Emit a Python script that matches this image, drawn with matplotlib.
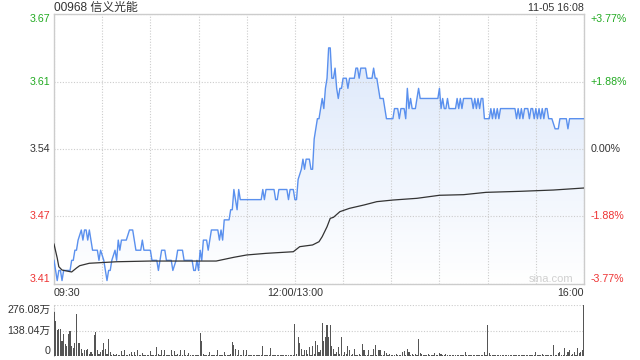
import numpy as np
import matplotlib
matplotlib.use('Agg')
import matplotlib.pyplot as plt
from matplotlib.colors import LinearSegmentedColormap
from matplotlib.patches import Polygon

plt.rcParams['font.family'] = ['Liberation Sans', 'Noto Sans CJK SC', 'DejaVu Sans']

title = "00968 信义光能"
stamp = "11-05 16:08"
prev_close = 3.54

# price axis limits and labels (prev close +/- 3.77%)
y_ticks = [3.6735, 3.6066, 3.54, 3.4734, 3.4066]
y_labels = ["3.67", "3.61", "3.54", "3.47", "3.41"]
pct_labels = ["+3.77%", "+1.88%", "0.00%", "-1.88%", "-3.77%"]
label_colors = ["#22aa22", "#22aa22", "#333333", "#ee3333", "#ee3333"]

time_ticks = [0, 150, 330]
time_labels = ["09:30", "12:00/13:00", "16:00"]

# price line, minute index from 09:30 (lunch removed)
t_price = [0, 2, 3, 4, 5, 6, 10, 11, 12, 13, 14, 15, 17, 18, 19, 20, 21, 22, 24, 27,
           28, 29, 31, 32, 33, 34, 35, 36, 38, 39, 40, 41, 42, 45, 47, 49, 51, 54, 55, 56,
           60, 61, 64, 65, 67, 69, 70, 73, 74, 76, 77, 80, 81, 86, 87, 88, 89, 90, 91, 92,
           93, 95, 96, 97, 98, 102, 103, 104, 105, 106, 109, 110, 111, 112, 113, 114, 115, 116, 129, 130,
           131, 132, 137, 138, 139, 140, 145, 146, 147, 149, 150, 151, 152, 154, 155, 156, 157, 159, 160, 161,
           162, 164, 165, 167, 168, 169, 170, 171, 172, 173, 174, 175, 176, 177, 178, 179, 180, 182, 183, 184,
           187, 188, 189, 190, 191, 194, 195, 198, 199, 200, 201, 203, 205, 207, 211, 212, 214, 215, 216, 218,
           219, 220, 221, 222, 223, 225, 226, 227, 228, 239, 240, 241, 242, 243, 244, 245, 246, 250, 251, 252,
           253, 254, 255, 260, 261, 262, 263, 264, 265, 266, 267, 268, 271, 272, 273, 274, 275, 276, 277, 278,
           287, 288, 289, 290, 291, 292, 293, 295, 296, 297, 298, 299, 300, 301, 302, 303, 304, 305, 306, 307,
           308, 310, 312, 314, 315, 319, 320, 321, 330]
price = [3.43, 3.41, 3.42, 3.42, 3.41, 3.42, 3.42, 3.43, 3.43, 3.44, 3.44, 3.45, 3.46, 3.45, 3.46, 3.46, 3.45, 3.46, 3.44, 3.44,
         3.43, 3.44, 3.43, 3.42, 3.41, 3.42, 3.42, 3.43, 3.44, 3.43, 3.45, 3.44, 3.45, 3.45, 3.46, 3.46, 3.44, 3.44, 3.45, 3.44,
         3.44, 3.43, 3.43, 3.42, 3.44, 3.44, 3.43, 3.43, 3.42, 3.43, 3.44, 3.44, 3.43, 3.43, 3.42, 3.42, 3.43, 3.42, 3.44, 3.43,
         3.45, 3.45, 3.44, 3.45, 3.46, 3.46, 3.45, 3.46, 3.45, 3.47, 3.47, 3.48, 3.48, 3.50, 3.49, 3.48, 3.50, 3.49, 3.49, 3.50,
         3.49, 3.50, 3.50, 3.49, 3.49, 3.50, 3.50, 3.49, 3.50, 3.50, 3.49, 3.49, 3.51, 3.52, 3.53, 3.52, 3.53, 3.53, 3.52, 3.52,
         3.55, 3.57, 3.57, 3.59, 3.58, 3.60, 3.61, 3.64, 3.64, 3.61, 3.61, 3.62, 3.60, 3.59, 3.60, 3.60, 3.61, 3.61, 3.60, 3.61,
         3.61, 3.62, 3.62, 3.61, 3.62, 3.62, 3.61, 3.61, 3.62, 3.61, 3.61, 3.59, 3.59, 3.57, 3.57, 3.58, 3.58, 3.57, 3.58, 3.58,
         3.57, 3.60, 3.58, 3.59, 3.58, 3.58, 3.59, 3.60, 3.59, 3.59, 3.60, 3.58, 3.59, 3.58, 3.58, 3.59, 3.58, 3.58, 3.59, 3.58,
         3.59, 3.58, 3.59, 3.59, 3.58, 3.59, 3.58, 3.59, 3.58, 3.59, 3.59, 3.57, 3.57, 3.58, 3.57, 3.58, 3.57, 3.58, 3.57, 3.58,
         3.58, 3.57, 3.58, 3.57, 3.58, 3.57, 3.58, 3.58, 3.57, 3.58, 3.58, 3.57, 3.58, 3.57, 3.58, 3.57, 3.58, 3.57, 3.58, 3.58,
         3.57, 3.57, 3.56, 3.56, 3.57, 3.57, 3.56, 3.57, 3.57]

# average price line
t_avg = [0, 2, 3, 5, 10, 11, 14, 16, 22, 29, 39, 60, 101, 112, 120, 132, 149, 153, 161, 165,
         167, 170, 172, 174, 178, 184, 193, 201, 211, 226, 240, 255, 269, 290, 311, 330]
avg = [3.4461, 3.4323, 3.4237, 3.4204, 3.4188, 3.4185, 3.4224, 3.4247, 3.4271, 3.4277,
       3.4286, 3.4293, 3.4293, 3.4330, 3.4353, 3.4369, 3.4385, 3.4435, 3.4452, 3.4484,
       3.4534, 3.4632, 3.4715, 3.4725, 3.4781, 3.4814, 3.4847, 3.4880, 3.4896, 3.4913,
       3.4943, 3.4949, 3.4972, 3.4982, 3.4995, 3.5015]

# volume per minute (万股)
volume = [239, 188, 142, 147, 147, 83, 120, 66, 55, 120,
          138, 55, 46, 73, 230, 73, 73, 39, 15, 30,
          30, 40, 12, 20, 10, 114, 129, 30, 12, 20,
          30, 73, 40, 10, 92, 20, 8, 10, 6, 10,
          5, 8, 25, 6, 30, 5, 8, 12, 20, 6,
          20, 5, 30, 8, 6, 15, 5, 4, 8, 6,
          25, 5, 8, 6, 50, 10, 5, 30, 8, 30,
          6, 8, 5, 30, 6, 25, 8, 10, 6, 30,
          8, 30, 5, 6, 15, 5, 4, 8, 6, 5,
          8, 123, 83, 10, 6, 5, 8, 20, 6, 5,
          8, 6, 30, 5, 8, 6, 20, 5, 8, 6,
          10, 77, 60, 40, 8, 30, 6, 5, 30, 8,
          30, 5, 8, 4, 6, 5, 3, 4, 6, 5,
          55, 4, 6, 5, 8, 46, 4, 5, 3, 4,
          6, 5, 4, 3, 5, 4, 6, 3, 4, 5,
          175, 10, 101, 70, 40, 8, 30, 30, 10, 50,
          8, 55, 10, 83, 60, 20, 31, 180, 83, 105,
          166, 105, 166, 55, 37, 10, 20, 50, 10, 105,
          8, 20, 10, 55, 30, 6, 10, 40, 6, 5,
          10, 6, 64, 30, 6, 8, 35, 6, 5, 40,
          60, 8, 35, 30, 6, 5, 25, 15, 6, 10,
          5, 4, 6, 10, 5, 5, 6, 20, 25, 6,
          40, 20, 6, 10, 5, 10, 6, 92, 15, 10,
          5, 6, 4, 10, 5, 6, 4, 15, 5, 6,
          15, 10, 4, 5, 10, 4, 5, 3, 8, 4,
          5, 3, 4, 5, 6, 4, 20, 3, 5, 4,
          3, 4, 5, 3, 5, 4, 3, 5, 20, 4,
          169, 15, 5, 4, 3, 5, 4, 3, 5, 4,
          3, 4, 5, 3, 4, 5, 3, 4, 3, 5,
          4, 3, 5, 4, 3, 4, 5, 3, 4, 5,
          20, 4, 5, 3, 10, 4, 5, 3, 4, 5,
          5, 61, 4, 6, 15, 20, 5, 4, 46, 5,
          20, 30, 5, 10, 20, 5, 46, 15, 20, 30,
          280]
vol_ticks = [0, 138.04, 276.08]
vol_labels = ["0", "138.04万", "276.08万"]

grid_col = "#cccccc"
fs = 7.7

fig = plt.figure(figsize=(6.4, 3.6), dpi=100)
ax = fig.add_axes([54 / 640, 1 - 284 / 360, 530 / 640, 270 / 360])
axv = fig.add_axes([54 / 640, 1 - 356 / 360, 530 / 640, 51 / 360])

# gradient fill under price line
cmap = LinearSegmentedColormap.from_list("fill", ["#ffffff", "#d8e5fa"])
grad = np.linspace(0, 1, 256).reshape(-1, 1)
im = ax.imshow(grad, extent=[0, 330, y_ticks[-1], y_ticks[0]], origin="lower",
               cmap=cmap, aspect="auto", zorder=1)
poly = Polygon(np.column_stack([np.r_[t_price[0], t_price, t_price[-1]],
                                np.r_[y_ticks[-1], price, y_ticks[-1]]]),
               closed=True, facecolor="none", edgecolor="none")
ax.add_patch(poly)
im.set_clip_path(poly)

ax.plot(t_price, price, color="#5a90ee", lw=1.0, zorder=3)
ax.plot(t_avg, avg, color="#333333", lw=0.9, zorder=3)

ax.set_xlim(0, 330)
ax.set_ylim(y_ticks[-1], y_ticks[0])
ax.set_xticks(time_ticks)
ax.set_xticklabels(time_labels, fontsize=fs, color="#333333")
ax.set_xticks(range(30, 330, 30), minor=True)
for lbl, ha in zip(ax.get_xticklabels(), ["left", "center", "right"]):
    lbl.set_ha(ha)
ax.set_yticks(y_ticks)
ax.set_yticklabels(y_labels, fontsize=fs)
for lbl, c, va in zip(ax.get_yticklabels(), label_colors,
                      ["top", "center", "center", "center", "bottom"]):
    lbl.set_color(c)
    lbl.set_va(va)
ax.tick_params(axis="both", which="both", length=0)
ax.tick_params(axis="x", pad=3)
ax.tick_params(axis="y", pad=2.5)
ax.grid(True, axis="both", which="both", color=grid_col, ls=(0, (1, 1.5)), lw=0.8)
for s in ax.spines.values():
    s.set_color(grid_col)
    s.set_linewidth(1.0)

ax2 = ax.twinx()
ax2.set_ylim(ax.get_ylim())
ax2.set_yticks(y_ticks)
ax2.set_yticklabels(pct_labels, fontsize=fs)
for lbl, c, va in zip(ax2.get_yticklabels(), label_colors,
                      ["top", "center", "center", "center", "bottom"]):
    lbl.set_color(c)
    lbl.set_va(va)
ax2.tick_params(axis="y", length=0, pad=4.5)
for s in ax2.spines.values():
    s.set_visible(False)

ax.text(0.979, 0.02, "sina.com", transform=ax.transAxes, ha="right", va="center",
        fontsize=8, color="#d0d0d0", zorder=4)

# volume panel
axv.bar(range(len(volume)), volume, width=0.7, color="#555555", zorder=3)
axv.set_xlim(0, 330)
axv.set_ylim(0, vol_ticks[-1])
axv.set_yticks(vol_ticks)
axv.set_yticklabels(vol_labels, fontsize=fs, color="#333333")
for lbl, va in zip(axv.get_yticklabels(), ["bottom", "center", "top"]):
    lbl.set_va(va)
axv.set_xticks([])
axv.tick_params(axis="y", length=0, pad=2.5)
axv.grid(True, axis="y", color=grid_col, ls=(0, (1, 1.5)), lw=0.8)
for name, s in axv.spines.items():
    if name == "left":
        s.set_color(grid_col)
        s.set_linestyle((0, (1, 1.5)))
        s.set_linewidth(0.8)
    else:
        s.set_visible(False)

fig.text(54 / 640, 1 - 8 / 360, title, ha="left", va="center", fontsize=8.6, color="#333333")
fig.text(584 / 640, 1 - 8 / 360, stamp, ha="right", va="center", fontsize=fs, color="#333333")

fig.savefig("out.png", dpi=100)
